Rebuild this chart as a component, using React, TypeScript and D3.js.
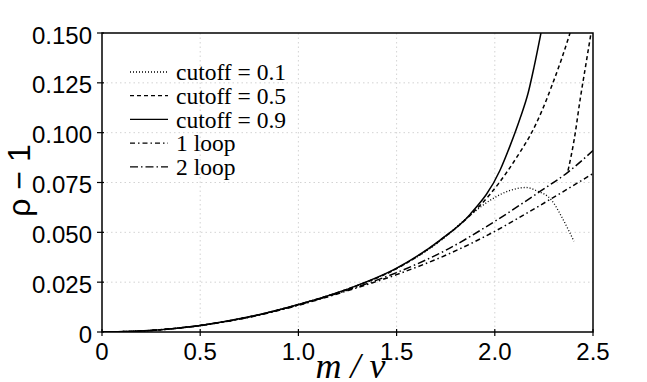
import * as d3 from "d3";

// values
const xTicks = [0, 0.5, 1.0, 1.5, 2.0, 2.5];
const xTickLabels = ["0", "0.5", "1.0", "1.5", "2.0", "2.5"];
const yTicks = [0, 0.025, 0.05, 0.075, 0.1, 0.125, 0.15];
const yTickLabels = ["0", "0.025", "0.050", "0.075", "0.100", "0.125", "0.150"];

const cut01X = [0, 0.25, 0.5, 0.75, 1.0, 1.25, 1.5, 1.72, 1.874, 1.975, 2.077, 2.16, 2.21, 2.29, 2.35, 2.403];
const cut01Y = [0, 0.0008, 0.0033, 0.0076, 0.0138, 0.0215, 0.0318, 0.0455, 0.0585, 0.066, 0.071, 0.0725, 0.071, 0.066, 0.056, 0.0455];

const cut05X = [0, 0.25, 0.5, 0.75, 1.0, 1.25, 1.5, 1.72, 1.874, 1.975, 2.067, 2.13, 2.18, 2.24, 2.296, 2.34, 2.383];
const cut05Y = [0, 0.0008, 0.0033, 0.0076, 0.0138, 0.0215, 0.0318, 0.0458, 0.0585, 0.069, 0.081, 0.0905, 0.0986, 0.111, 0.125, 0.137, 0.15];

const cut05BranchX = [2.373, 2.405, 2.435, 2.465, 2.49];
const cut05BranchY = [0.081, 0.097, 0.117, 0.135, 0.15];

const cut09X = [0, 0.25, 0.5, 0.75, 1.0, 1.25, 1.5, 1.72, 1.874, 2.026, 2.08, 2.128, 2.17, 2.2, 2.235];
const cut09Y = [0, 0.0008, 0.0033, 0.0076, 0.0138, 0.0215, 0.032, 0.046, 0.059, 0.081, 0.094, 0.107, 0.12, 0.133, 0.15];

const loop1X = [0, 0.25, 0.5, 0.75, 1.0, 1.25, 1.5, 1.75, 2.0, 2.23, 2.5];
const loop1Y = [0, 0.0008, 0.0032, 0.0074, 0.0134, 0.0207, 0.0288, 0.0385, 0.0505, 0.0635, 0.0795];

const loop2X = [0, 0.25, 0.5, 0.75, 1.0, 1.25, 1.5, 1.75, 2.0, 2.23, 2.37, 2.5];
const loop2Y = [0, 0.0008, 0.0033, 0.0075, 0.0136, 0.021, 0.0298, 0.041, 0.0555, 0.0705, 0.08, 0.091];

const legendLabels = ["cutoff = 0.1", "cutoff = 0.5", "cutoff = 0.9", "1 loop", "2 loop"];

const W = 647;
const H = 382;
const left = 102;
const right = 593;
const top = 33;
const bottom = 332;

const dotted = "1,2";
const dashed = "4,3";
const dash1 = "5,3,1.5,3";
const dash2 = "8,3,1.5,3";

export default function App() {
  const x = d3.scaleLinear().domain([0, 2.5]).range([left, right]);
  const y = d3.scaleLinear().domain([0, 0.15]).range([bottom, top]);

  const line = d3
    .line<[number, number]>()
    .x((d) => x(d[0]))
    .y((d) => y(d[1]))
    .curve(d3.curveMonotoneX);

  const zip = (xs: number[], ys: number[]) =>
    xs.map((v, i) => [v, ys[i]] as [number, number]);

  const series = [
    { pts: zip(cut01X, cut01Y), dash: dotted, w: 1.3 },
    { pts: zip(cut05X, cut05Y), dash: dashed, w: 1.5 },
    { pts: zip(cut05BranchX, cut05BranchY), dash: dashed, w: 1.5 },
    { pts: zip(cut09X, cut09Y), dash: "none", w: 1.5 },
    { pts: zip(loop1X, loop1Y), dash: dash1, w: 1.5 },
    { pts: zip(loop2X, loop2Y), dash: dash2, w: 1.5 },
  ];
  const legendDashes = [dotted, dashed, "none", dash1, dash2];

  return (
    <svg
      width={W}
      height={H}
      style={{ position: "absolute", left: 0, top: 0, background: "#fff" }}
    >
      <defs>
        <clipPath id="plot">
          <rect x={left} y={top} width={right - left} height={bottom - top} />
        </clipPath>
      </defs>

      {/* grid */}
      <g stroke="#c8c8c8" strokeWidth={0.8} strokeDasharray="1.5,3">
        {xTicks.slice(1, -1).map((t) => (
          <line key={"gx" + t} x1={x(t)} x2={x(t)} y1={top} y2={bottom} />
        ))}
        {yTicks.slice(1, -1).map((t) => (
          <line key={"gy" + t} x1={left} x2={right} y1={y(t)} y2={y(t)} />
        ))}
      </g>

      {/* curves */}
      <g clipPath="url(#plot)" fill="none" stroke="#000">
        {series.map((s, i) => (
          <path
            key={i}
            d={line(s.pts) || ""}
            strokeWidth={s.w}
            strokeDasharray={s.dash === "none" ? undefined : s.dash}
          />
        ))}
      </g>

      {/* frame */}
      <rect
        x={left}
        y={top}
        width={right - left}
        height={bottom - top}
        fill="none"
        stroke="#000"
        strokeWidth={1.5}
      />

      {/* ticks */}
      <g fontFamily="Liberation Sans, Arial, sans-serif" fontSize={24}>
        {yTicks.map((t, i) => (
          <g key={"yt" + t}>
            <line x1={left - 5} x2={left + 2} y1={y(t)} y2={y(t)} stroke="#000" strokeWidth={1.2} />
            <text x={left - 10} y={y(t) + 2} dy="0.36em" textAnchor="end">
              {yTickLabels[i]}
            </text>
          </g>
        ))}
        {xTicks.map((t, i) => (
          <g key={"xt" + t}>
            <line x1={x(t)} x2={x(t)} y1={bottom - 3} y2={bottom + 4} stroke="#000" strokeWidth={1.2} />
            <text x={x(t)} y={bottom + 28} textAnchor="middle">
              {xTickLabels[i]}
            </text>
          </g>
        ))}
      </g>

      {/* axis titles */}
      <text
        x={(left + right) / 2 + 3}
        y={378}
        textAnchor="middle"
        fontFamily="Liberation Serif, Times New Roman, serif"
        fontStyle="italic"
        fontSize={36}
      >
        m / v
      </text>
      <text
        transform={`translate(30,${(top + bottom) / 2 - 2}) rotate(-90)`}
        textAnchor="middle"
        fontFamily="Liberation Sans, Arial, sans-serif"
        fontSize={32}
      >
        ρ − 1
      </text>

      {/* legend */}
      <g fontFamily="Liberation Serif, Times New Roman, serif" fontSize={23.5}>
        {legendLabels.map((lab, i) => {
          const ly = 72 + i * 23.7;
          return (
            <g key={lab}>
              <line
                x1={130}
                x2={168}
                y1={ly}
                y2={ly}
                stroke="#000"
                strokeWidth={1.3}
                strokeDasharray={legendDashes[i] === "none" ? undefined : legendDashes[i]}
              />
              <text x={176} y={ly} dy="0.35em">
                {lab}
              </text>
            </g>
          );
        })}
      </g>
    </svg>
  );
}
